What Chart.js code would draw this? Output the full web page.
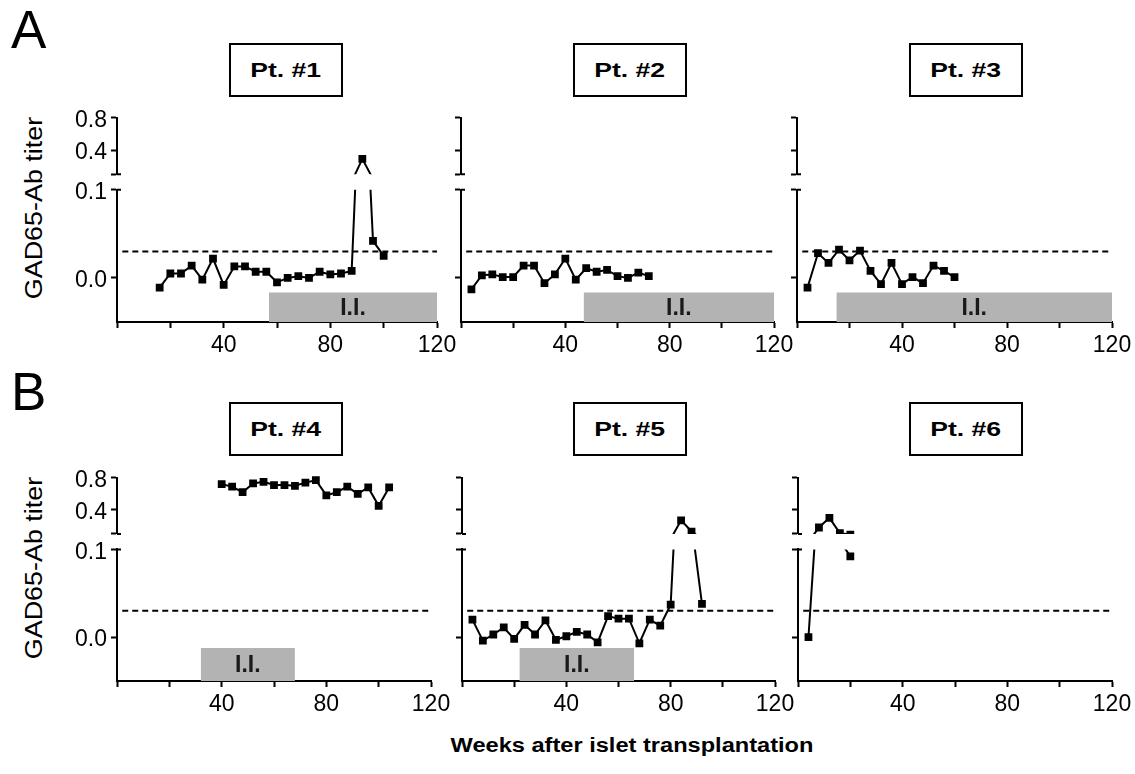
<!DOCTYPE html>
<html>
<head>
<meta charset="utf-8">
<script src="https://cdn.jsdelivr.net/npm/chart.js@4.4.0/dist/chart.umd.min.js"></script>
<style>
  body { margin: 0; background: #fff; }
  #fig { position: relative; width: 1135px; height: 774px; overflow: hidden; font-family: "Liberation Sans", Arial, sans-serif; color: #000; }
  #fig canvas { position: absolute; }
  .letter { position: absolute; font-size: 53px; line-height: 1; }
  .ptBox { position: absolute; box-sizing: border-box; width: 114px; height: 54px; border: 2px solid #000;
           display: flex; align-items: center; justify-content: center; }
  .ptBox span { font-weight: bold; font-size: 20px; line-height: 1; transform: scaleX(1.33); }
  .yTitle { position: absolute; font-size: 23px; line-height: 1; white-space: nowrap;
            transform: translate(-50%, -50%) rotate(-90deg) scaleX(1.17); }
  .xTitle { position: absolute; font-size: 20px; font-weight: bold; line-height: 1; white-space: nowrap;
            transform: translate(-50%, -50%) scaleX(1.18); }
</style>
</head>
<body>
<div id="fig">
  <div class="letter" style="left:11px; top:3px;">A</div>
  <div class="letter" style="left:11px; top:365px;">B</div>
  <div class="yTitle" style="left:34px; top:208px;">GAD65-Ab titer</div>
  <div class="yTitle" style="left:34px; top:568px;">GAD65-Ab titer</div>
  <div class="xTitle" style="left:632px; top:745px;">Weeks after islet transplantation</div>
</div>
<script>
// values
const weeks1 = [16, 20, 24, 28, 32, 36, 40, 44, 48, 52, 56, 60, 64, 68, 72, 76, 80, 84, 88, 92, 96, 100];
const titer1 = [-0.011, 0.005, 0.005, 0.014, -0.002, 0.022, -0.008, 0.013, 0.013, 0.007, 0.007, -0.005, 0.000, 0.002, 0.000, 0.007, 0.004, 0.005, 0.008, 0.29, 0.042, 0.025];

const weeks2 = [4, 8, 12, 16, 20, 24, 28, 32, 36, 40, 44, 48, 52, 56, 60, 64, 68, 72];
const titer2 = [-0.013, 0.003, 0.004, 0.001, 0.001, 0.014, 0.014, -0.006, 0.004, 0.022, -0.002, 0.011, 0.007, 0.009, 0.002, 0.000, 0.006, 0.002];

const weeks3 = [4, 8, 12, 16, 20, 24, 28, 32, 36, 40, 44, 48, 52, 56, 60];
const titer3 = [-0.011, 0.028, 0.017, 0.032, 0.020, 0.031, 0.008, -0.007, 0.017, -0.007, 0.001, -0.006, 0.014, 0.008, 0.001];

const weeks4 = [40, 44, 48, 52, 56, 60, 64, 68, 72, 76, 80, 84, 88, 92, 96, 100, 104];
const titer4 = [0.72, 0.69, 0.62, 0.73, 0.75, 0.71, 0.71, 0.70, 0.74, 0.77, 0.58, 0.62, 0.69, 0.60, 0.68, 0.45, 0.68];

const weeks5 = [4, 8, 12, 16, 20, 24, 28, 32, 36, 40, 44, 48, 52, 56, 60, 64, 68, 72, 76, 80, 84, 88, 92];
const titer5 = [0.020, -0.004, 0.003, 0.011, -0.002, 0.014, 0.003, 0.019, -0.003, 0.001, 0.006, 0.003, -0.006, 0.024, 0.021, 0.021, -0.007, 0.020, 0.013, 0.037, 0.27, 0.13, 0.038];

const weeks6 = [4, 8, 12, 16, 20];
const titer6 = [0.000, 0.18, 0.30, 0.11, 0.092];

const patients = ['Pt. #1', 'Pt. #2', 'Pt. #3', 'Pt. #4', 'Pt. #5', 'Pt. #6'];
// immunosuppression (I.I.) period, weeks
const iiStart = [57, 47, 15, 32, 22, null];
const iiEnd = [120, 120, 120, 68, 66, null];
const iiTop = [-0.0165, -0.0165, -0.0165, -0.0125, -0.0125, null];

const cutoff = 0.03;
const xTickLabels = [40, 80, 120];
const lowTicks = [0.0, 0.1];
const highTicks = [0.1, 0.4, 0.8];

const allWeeks = [weeks1, weeks2, weeks3, weeks4, weeks5, weeks6];
const allTiters = [titer1, titer2, titer3, titer4, titer5, titer6];

// plot area of each panel on the page
const frames = [
  {left: 117, right: 437, top: 112, bottom: 322, box: [229, 43], labels: true},
  {left: 461, right: 774, top: 112, bottom: 322, box: [573, 43], labels: false},
  {left: 797, right: 1112, top: 112, bottom: 322, box: [909, 43], labels: false},
  {left: 117, right: 431, top: 472, bottom: 681, box: [229, 402], labels: true},
  {left: 462, right: 775, top: 472, bottom: 681, box: [573, 402], labels: false},
  {left: 798, right: 1112, top: 472, bottom: 681, box: [909, 402], labels: false},
];

const fontFamily = "'Liberation Sans', Arial, sans-serif";
const padTop = 12, padRight = 25, axisW = 60, axisH = 42;

// clip each copy of the series to its own part of the broken axis
const partClip = {
  id: 'partClip',
  beforeDatasetDraw(chart, args) {
    const ds = chart.data.datasets[args.index];
    if (!ds.axisPart) return;
    const sc = args.meta.yScale, area = chart.chartArea, ctx = chart.ctx;
    const top = ds.axisPart === 'high' ? sc.top - 10 : sc.top;
    const bottom = ds.axisPart === 'high' ? sc.bottom : sc.bottom + 10;
    ctx.save();
    ctx.beginPath();
    ctx.rect(area.left - 10, top, area.right - area.left + 20, bottom - top);
    ctx.clip();
  },
  afterDatasetDraw(chart, args) {
    if (chart.data.datasets[args.index].axisPart) chart.ctx.restore();
  }
};

// small caps on the inner side of the axis break
const breakCaps = {
  id: 'breakCaps',
  afterDraw(chart) {
    const ctx = chart.ctx, x = chart.chartArea.left;
    ctx.save();
    ctx.strokeStyle = '#000';
    ctx.lineWidth = 2;
    ctx.beginPath();
    [chart.scales.yHigh.bottom, chart.scales.yLow.top].forEach(y => {
      ctx.moveTo(x, y);
      ctx.lineTo(x + 4, y);
    });
    ctx.stroke();
    ctx.restore();
  }
};

const bandText = {
  id: 'bandText',
  afterDatasetsDraw(chart) {
    const ctx = chart.ctx;
    chart.data.datasets.forEach(ds => {
      if (!ds.bandLabel) return;
      const xs = chart.scales.x, ys = chart.scales.yLow;
      const x0 = xs.getPixelForValue(ds.data[0].x);
      const x1 = xs.getPixelForValue(ds.data[1].x);
      const cy = (ys.getPixelForValue(ds.data[0].y) + ys.bottom) / 2;
      ctx.save();
      ctx.fillStyle = '#1a1a1a';
      ctx.font = "bold 23px " + fontFamily;
      ctx.textAlign = 'center';
      ctx.textBaseline = 'middle';
      ctx.fillText(ds.bandLabel, (x0 + x1) / 2, cy + 1);
      ctx.restore();
    });
  }
};

function axisStyle() {
  return {
    border: {color: '#000', width: 2},
    grid: {drawOnChartArea: false, drawTicks: true, tickLength: 6, tickWidth: 2, tickColor: '#000'},
  };
}

function makePanel(i) {
  const f = frames[i];
  const fig = document.getElementById('fig');

  const box = document.createElement('div');
  box.className = 'ptBox';
  box.style.left = f.box[0] + 'px';
  box.style.top = f.box[1] + 'px';
  box.innerHTML = '<span>' + patients[i] + '</span>';
  fig.appendChild(box);

  const canvas = document.createElement('canvas');
  const w = f.right - f.left + axisW + padRight;
  const h = f.bottom - f.top + padTop + axisH;
  canvas.width = w;
  canvas.height = h;
  canvas.style.width = w + 'px';
  canvas.style.height = h + 'px';
  canvas.style.left = (f.left - axisW) + 'px';
  canvas.style.top = (f.top - padTop) + 'px';
  fig.appendChild(canvas);

  const pts = allWeeks[i].map((wk, k) => ({x: wk, y: allTiters[i][k]}));
  const series = {
    data: pts, borderColor: '#000', borderWidth: 2, tension: 0,
    pointStyle: 'rect', pointRadius: 5.5, pointBackgroundColor: '#000', pointBorderWidth: 0,
    clip: 12
  };
  const datasets = [
    Object.assign({}, series, {yAxisID: 'yLow', axisPart: 'low'}),
    Object.assign({}, series, {yAxisID: 'yHigh', axisPart: 'high'}),
    {
      data: [{x: 2, y: cutoff}, {x: 120, y: cutoff}], yAxisID: 'yLow', axisPart: 'low',
      borderColor: '#000', borderWidth: 2, borderDash: [6, 4], pointRadius: 0, clip: 12
    }
  ];
  if (iiStart[i] !== null) {
    datasets.push({
      data: [{x: iiStart[i], y: iiTop[i]}, {x: iiEnd[i], y: iiTop[i]}], yAxisID: 'yLow',
      borderColor: 'rgba(0,0,0,0)', borderWidth: 0, pointRadius: 0,
      fill: 'start', backgroundColor: '#b3b3b3', bandLabel: 'I.I.'
    });
  }

  const tickFont = {family: fontFamily, size: 23};
  const fixW = s => { s.width = axisW; };

  new Chart(canvas, {
    type: 'line',
    data: {datasets: datasets},
    plugins: [partClip, bandText, breakCaps],
    options: {
      responsive: false,
      animation: false,
      layout: {padding: {top: padTop, right: padRight, left: 0, bottom: 0}},
      plugins: {legend: {display: false}, tooltip: {enabled: false}},
      scales: {
        x: Object.assign(axisStyle(), {
          type: 'linear', min: 0, max: 120,
          afterFit: s => { s.height = axisH; },
          ticks: {
            stepSize: 20, autoSkip: false, maxRotation: 0, padding: 4, color: '#000', font: tickFont,
            callback: v => xTickLabels.includes(v) ? String(v) : ''
          }
        }),
        yLow: Object.assign(axisStyle(), {
          type: 'linear', position: 'left', stack: 'y', stackWeight: 136, weight: 1,
          min: -0.05, max: 0.1, afterFit: fixW,
          afterBuildTicks: s => { s.ticks = lowTicks.map(v => ({value: v})); },
          ticks: {
            autoSkip: false, padding: 4, labelOffset: 3, color: '#000', font: tickFont,
            callback: v => f.labels ? v.toFixed(1) : ''
          }
        }),
        yGap: {
          type: 'linear', position: 'left', stack: 'y', stackWeight: 16, weight: 2,
          min: 0, max: 1, afterFit: fixW,
          border: {display: false}, grid: {display: false}, ticks: {display: false}
        },
        yHigh: Object.assign(axisStyle(), {
          type: 'linear', position: 'left', stack: 'y', stackWeight: 58, weight: 3,
          min: 0.1, max: 0.8, afterFit: fixW,
          afterBuildTicks: s => { s.ticks = highTicks.map(v => ({value: v})); },
          ticks: {
            autoSkip: false, padding: 4, labelOffset: 3, color: '#000', font: tickFont,
            callback: v => (f.labels && v !== 0.1) ? v.toFixed(1) : ''
          }
        })
      }
    }
  });
}

for (let i = 0; i < 6; i++) makePanel(i);
</script>
</body>
</html>
